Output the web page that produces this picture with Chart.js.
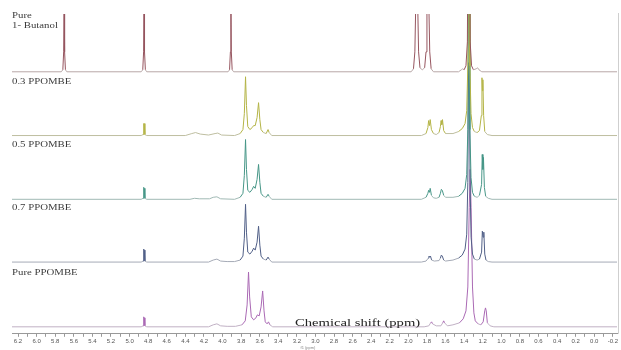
<!DOCTYPE html>
<html>
<head>
<meta charset="utf-8">
<script src="https://cdn.jsdelivr.net/npm/chart.js@4.4.1/dist/chart.umd.min.js"></script>
<style>
  html, body { margin: 0; padding: 0; background: #fff; }
</style>
</head>
<body>
<canvas id="nmr" width="621" height="350"></canvas>
<script>
// sample names, top to bottom
const samples = ['Pure\n1- Butanol', '0.3 PPOMBE', '0.5 PPOMBE', '0.7 PPOMBE', 'Pure PPOMBE'];

// spectra as [ppm, intensity] pairs
const butanol = [
  [6.265, 0], [5.735, 0], [5.718, 2], [5.709, 20], [5.704, 90], [5.699, 20], [5.69, 2], [5.675, 0],
  [4.875, 0], [4.858, 2], [4.849, 20], [4.844, 90], [4.839, 20], [4.83, 2], [4.815, 0],
  [3.94, 0], [3.924, 2], [3.915, 20], [3.91, 90], [3.905, 20], [3.896, 2], [3.88, 0],
  [1.97, 0], [1.945, 3], [1.93, 20], [1.92, 70], [1.91, 90], [1.90, 70], [1.89, 20], [1.875, 4], [1.85, 2],
  [1.825, 4], [1.81, 20], [1.80, 70], [1.79, 90], [1.78, 70], [1.77, 20], [1.755, 3], [1.73, 0],
  [1.46, 0], [1.43, 2], [1.415, 3], [1.40, 2], [1.38, 6], [1.365, 30], [1.355, 200], [1.345, 200], [1.335, 30],
  [1.32, 6], [1.30, 2], [1.27, 3], [1.255, 4], [1.24, 2], [1.21, 0],
  [-0.245, 0]
];
const ppombe03 = [
  [6.265, 0], [4.875, 0], [4.855, 1], [4.848, 12], [4.842, 12], [4.835, 1], [4.815, 0],
  [4.40, 0], [4.33, 2], [4.29, 3], [4.24, 1.5], [4.15, 0.5], [4.08, 2], [4.05, 2.5], [4.01, 0.5],
  [3.87, 0], [3.81, 2], [3.78, 6], [3.765, 22], [3.752, 59], [3.742, 30], [3.728, 9], [3.705, 6], [3.68, 8],
  [3.665, 10], [3.648, 10], [3.628, 18], [3.612, 33], [3.598, 16], [3.585, 6], [3.56, 3], [3.53, 2],
  [3.51, 6], [3.498, 3], [3.47, 0],
  [1.86, 0], [1.81, 2], [1.79, 8], [1.782, 15], [1.773, 10], [1.765, 16], [1.752, 6], [1.73, 2], [1.70, 1],
  [1.67, 3], [1.655, 9], [1.648, 15], [1.640, 11], [1.633, 16], [1.62, 5], [1.60, 2],
  [1.52, 2], [1.46, 4], [1.42, 7], [1.39, 12], [1.372, 25], [1.36, 70], [1.352, 200], [1.345, 200], [1.338, 70],
  [1.326, 22], [1.31, 8], [1.29, 4], [1.26, 3], [1.235, 5], [1.215, 20], [1.208, 58], [1.203, 45], [1.198, 56],
  [1.19, 20], [1.178, 4], [1.15, 1], [1.10, 0],
  [-0.245, 0]
];
const ppombe05 = [
  [6.265, 0], [4.875, 0], [4.855, 1], [4.848, 12], [4.842, 11], [4.835, 1], [4.815, 0],
  [4.35, 0], [4.30, 1], [4.25, 0.5], [4.14, 0.5], [4.10, 2], [4.06, 2.5], [4.02, 0.5],
  [3.87, 0], [3.81, 2], [3.78, 6], [3.765, 24], [3.752, 60], [3.742, 30], [3.728, 9], [3.705, 7], [3.68, 10],
  [3.665, 13], [3.648, 11], [3.628, 20], [3.612, 35], [3.598, 17], [3.585, 6], [3.56, 3], [3.53, 2],
  [3.51, 5], [3.498, 3], [3.47, 0],
  [1.86, 0], [1.81, 2], [1.79, 6], [1.782, 9], [1.773, 7], [1.765, 11], [1.752, 4], [1.73, 1.5], [1.70, 1],
  [1.67, 2], [1.655, 6], [1.645, 10], [1.635, 9], [1.62, 4], [1.60, 2],
  [1.52, 2], [1.46, 3], [1.42, 6], [1.39, 11], [1.372, 25], [1.36, 70], [1.352, 200], [1.345, 200], [1.338, 70],
  [1.326, 22], [1.31, 7], [1.29, 3], [1.26, 2], [1.235, 4], [1.212, 15], [1.205, 45], [1.198, 30], [1.192, 42],
  [1.182, 12], [1.168, 3], [1.14, 1], [1.10, 0],
  [-0.245, 0]
];
const ppombe07 = [
  [6.265, 0], [4.875, 0], [4.855, 1], [4.848, 13], [4.842, 12], [4.835, 1], [4.815, 0],
  [4.15, 0], [4.10, 2], [4.06, 3], [4.02, 1], [3.95, 0.5],
  [3.87, 0.5], [3.81, 2], [3.78, 6], [3.765, 24], [3.752, 58], [3.742, 30], [3.728, 10], [3.705, 8], [3.68, 11],
  [3.665, 14], [3.648, 12], [3.628, 20], [3.612, 36], [3.598, 17], [3.585, 6], [3.56, 3], [3.53, 2],
  [3.51, 5], [3.498, 3], [3.47, 0],
  [1.86, 0], [1.81, 1], [1.785, 4], [1.778, 6], [1.770, 5], [1.762, 6], [1.75, 2], [1.72, 1],
  [1.67, 1.5], [1.655, 4], [1.645, 7], [1.635, 6], [1.62, 2], [1.60, 1],
  [1.52, 2], [1.46, 4], [1.42, 7], [1.39, 13], [1.372, 28], [1.36, 80], [1.352, 200], [1.345, 200], [1.336, 80],
  [1.325, 25], [1.31, 8], [1.29, 3], [1.26, 2], [1.235, 3], [1.212, 10], [1.204, 31], [1.196, 25], [1.188, 30],
  [1.178, 8], [1.165, 2], [1.14, 0.5], [1.10, 0],
  [-0.245, 0]
];
const ppombePure = [
  [6.265, 0], [4.875, 0], [4.855, 1], [4.848, 10], [4.842, 9], [4.835, 1], [4.815, 0],
  [4.15, 0], [4.10, 2], [4.06, 3], [4.02, 1], [3.95, 0.5],
  [3.86, 0.5], [3.79, 2], [3.755, 6], [3.735, 22], [3.72, 55], [3.708, 30], [3.69, 10], [3.665, 7], [3.64, 9],
  [3.625, 12], [3.605, 11], [3.585, 20], [3.568, 36], [3.553, 16], [3.54, 5], [3.52, 3], [3.505, 5],
  [3.49, 2], [3.46, 0],
  [1.83, 0], [1.78, 1], [1.76, 4], [1.75, 5], [1.74, 3], [1.70, 1], [1.65, 1], [1.63, 4], [1.62, 6], [1.61, 4], [1.58, 1],
  [1.52, 2], [1.45, 4], [1.41, 8], [1.38, 16], [1.36, 40], [1.345, 120], [1.335, 158], [1.325, 120], [1.31, 40],
  [1.295, 14], [1.28, 6], [1.25, 3], [1.22, 2], [1.195, 5], [1.178, 16], [1.17, 19], [1.162, 16], [1.15, 4],
  [1.12, 1], [1.08, 0],
  [-0.245, 0]
];
const spectra = [butanol, ppombe03, ppombe05, ppombe07, ppombePure];

// x axis range (ppm, drawn high to low)
const ppmMin = -0.245;
const ppmMax = 6.265;

// layout / style
const stackBase = [263, 199, 135, 72, 7];   // baseline of each trace on the hidden y axis
const baseColors = ['rgb(185,168,168)', 'rgb(190,190,160)', 'rgb(160,185,180)', 'rgb(165,170,182)', 'rgb(192,176,196)'];
const peakColors = ['rgb(150,85,95)', 'rgb(180,180,70)', 'rgb(70,150,135)', 'rgb(80,95,135)', 'rgb(170,105,180)'];

function stretchText(ctx, text, x, y, font, sx) {
  ctx.save();
  ctx.translate(x, y);
  ctx.scale(sx, 1);
  ctx.font = font;
  ctx.fillText(text, 0, 0);
  ctx.restore();
}

const labels = {
  id: 'labels',
  afterDraw(chart) {
    const { ctx, chartArea, scales: { y } } = chart;
    ctx.save();
    ctx.textBaseline = 'middle';
    ctx.fillStyle = '#3a3a3a';
    samples.forEach((name, i) => {
      const lines = name.split('\n');
      const top = y.getPixelForValue(stackBase[i]) - (lines.length > 1 ? 56 : 54);
      lines.forEach((line, k) => stretchText(ctx, line, chartArea.left, top + k * 10, '8px "Liberation Serif"', 1.35));
    });
    ctx.fillStyle = '#222';
    stretchText(ctx, 'Chemical shift (ppm)', 295, 323, '11px "Liberation Serif"', 1.33);
    ctx.fillStyle = '#888';
    ctx.textAlign = 'center';
    ctx.font = '4px "Liberation Sans"';
    ctx.fillText('f1 (ppm)', 308, 347.5);
    // thin frame line on the right edge
    ctx.strokeStyle = '#cfcfcf';
    ctx.lineWidth = 1;
    ctx.beginPath();
    ctx.moveTo(618.5, 13);
    ctx.lineTo(618.5, chartArea.bottom);
    ctx.stroke();
    ctx.restore();
  }
};

const datasets = spectra.map((s, i) => ({
  label: samples[i],
  data: s.map(([ppm, v]) => ({ x: ppm, y: stackBase[i] + v })),
  borderColor: baseColors[i],
  borderWidth: 1,
  pointRadius: 0,
  tension: 0,
  segment: {
    borderColor: c => (Math.max(c.p0.parsed.y, c.p1.parsed.y) - stackBase[i] > 4 ? peakColors[i] : baseColors[i])
  }
}));

new Chart(document.getElementById('nmr').getContext('2d'), {
  type: 'line',
  data: { datasets },
  options: {
    responsive: false,
    animation: false,
    devicePixelRatio: 1,
    layout: { padding: { left: 12, right: 4, top: 14, bottom: 4 } },
    plugins: { legend: { display: false }, tooltip: { enabled: false } },
    scales: {
      x: {
        type: 'linear',
        reverse: true,
        min: ppmMin,
        max: ppmMax,
        ticks: {
          stepSize: 0.1,
          includeBounds: false,
          autoSkip: false,
          maxRotation: 0,
          padding: 1,
          color: '#555',
          font: { family: 'Liberation Sans', size: 6 },
          callback: v => {
            const k = Math.round(v * 10);
            return k % 2 === 0 ? (k / 10).toFixed(1) : '';
          }
        },
        grid: { drawOnChartArea: false, tickLength: 3, color: '#999' },
        border: { color: '#999' }
      },
      y: { display: false, min: 0, max: 321 }
    }
  },
  plugins: [labels]
});
</script>
</body>
</html>
